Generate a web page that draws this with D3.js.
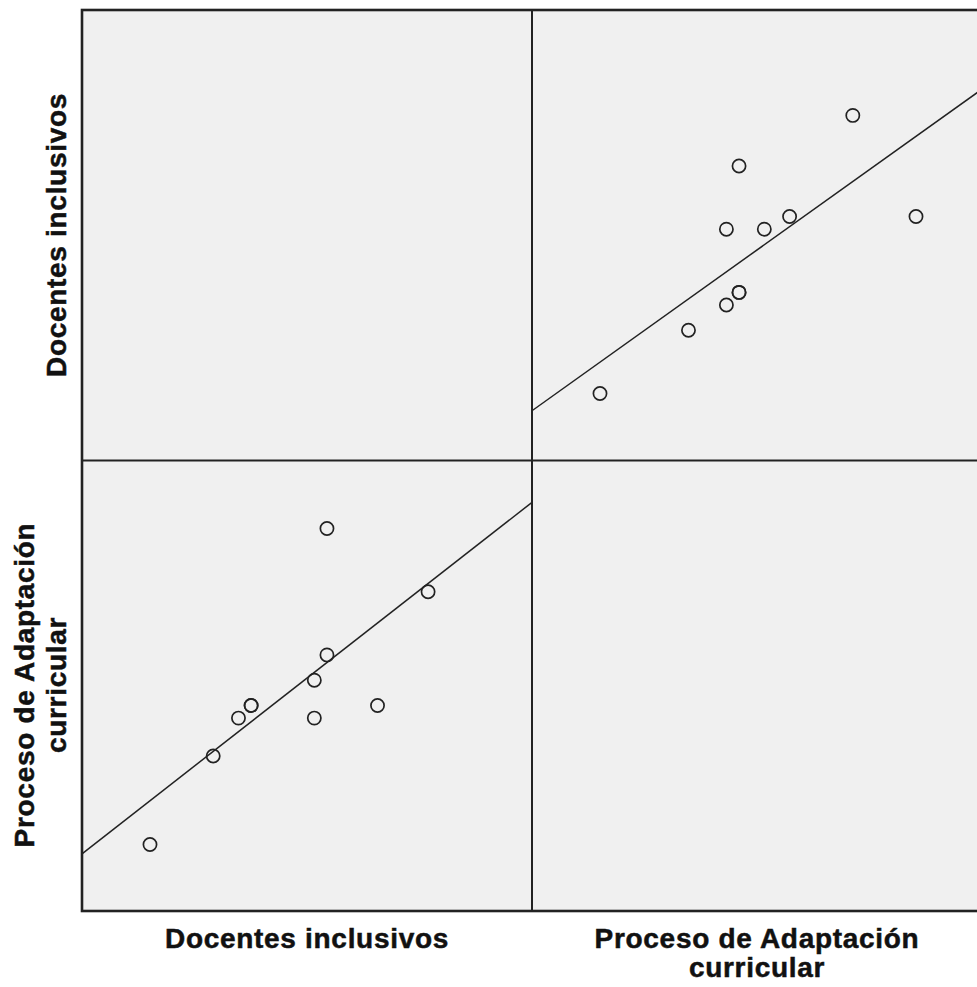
<!DOCTYPE html>
<html lang="es">
<head>
  <meta charset="UTF-8" />
  <title>Matriz de dispersión</title>
  <script src="https://d3js.org/d3.v7.min.js"></script>
  <style>
    body { margin: 0; background: #fff; }
    text { font-family: "Liberation Sans", Arial, sans-serif; font-weight: bold; fill: #111;
           stroke: #111; stroke-width: 0.5px; }
  </style>
</head>
<body>
  <svg id="chart" width="977" height="987"></svg>

  <script>
    // datos (11 casos)
    const docentes = [42, 38, 34, 34, 33, 33, 28, 28, 27, 25, 20];
    const proceso  = [40, 31, 35, 45, 30, 33, 31, 31, 30, 27, 20];
    const varLabels = [["Docentes inclusivos"], ["Proceso de Adaptación", "curricular"]];
    const series = [docentes, proceso];
    const domain = [14.7, 50.3];

    const padLeft = 82, padTop = 10, cell = 450;
    const svg = d3.select("#chart");

    function fit(xs, ys) {
      const mx = d3.mean(xs), my = d3.mean(ys);
      const sxy = d3.sum(xs, (x, i) => (x - mx) * (ys[i] - my));
      const sxx = d3.sum(xs, x => (x - mx) * (x - mx));
      const b = sxy / sxx;
      return x => my + b * (x - mx);
    }

    for (let r = 0; r < 2; r++) {
      for (let c = 0; c < 2; c++) {
        const x0 = padLeft + c * cell, y0 = padTop + r * cell + (r ? 1 : 0);
        const x = d3.scaleLinear().domain(domain).range([x0, x0 + cell]);
        const y = d3.scaleLinear().domain(domain).range([y0 + cell, y0]);
        const g = svg.append("g");

        g.append("rect")
          .attr("x", x0).attr("y", y0)
          .attr("width", cell).attr("height", cell)
          .attr("fill", "#f0f0f0");

        if (r === c) continue;
        const xs = series[c], ys = series[r];
        const f = fit(xs, ys);
        const marks = g.append("g").attr("transform", "translate(1,0.5)");

        marks.append("line")
          .attr("x1", x(domain[0]) - 1).attr("y1", y(f(domain[0])))
          .attr("x2", x(domain[1])).attr("y2", y(f(domain[1])))
          .attr("stroke", "#222").attr("stroke-width", 1.5);

        marks.selectAll("circle")
          .data(xs.map((v, i) => [v, ys[i]]))
          .join("circle")
          .attr("cx", d => x(d[0]))
          .attr("cy", d => y(d[1]))
          .attr("r", 6.6)
          .attr("fill", "none")
          .attr("stroke", "#222")
          .attr("stroke-width", 1.7);
      }
    }

    // rejilla y marco
    const frame = svg.append("g").attr("fill", "none").attr("stroke", "#222");
    frame.append("line").attr("x1", padLeft + cell).attr("x2", padLeft + cell)
      .attr("y1", padTop).attr("y2", padTop + 2 * cell + 1).attr("stroke-width", 2);
    frame.append("line").attr("x1", padLeft).attr("x2", padLeft + 2 * cell)
      .attr("y1", padTop + cell + 0.5).attr("y2", padTop + cell + 0.5).attr("stroke-width", 2);
    frame.append("rect").attr("x", padLeft).attr("y", padTop)
      .attr("width", 2 * cell).attr("height", 2 * cell + 1).attr("stroke-width", 2.6);

    // etiquetas
    const fs = 28, lh = 29;
    varLabels.forEach((lines, i) => {
      const cx = padLeft + i * cell + cell / 2;
      const t = svg.append("text")
        .attr("text-anchor", "middle")
        .attr("font-size", fs)
        .attr("letter-spacing", 0.7);
      lines.forEach((s, k) => t.append("tspan").attr("x", cx).attr("y", 948 + k * lh).text(s));

      const cy = padTop + i * cell + cell / 2;
      const n = lines.length;
      const tl = svg.append("text")
        .attr("text-anchor", "middle")
        .attr("font-size", fs)
        .attr("letter-spacing", 0.7)
        .attr("transform", `translate(0,${cy}) rotate(-90)`);
      lines.forEach((s, k) => tl.append("tspan").attr("x", 0)
        .attr("y", 66 - (n - 1 - k) * 32).text(s));
    });
  </script>
</body>
</html>
